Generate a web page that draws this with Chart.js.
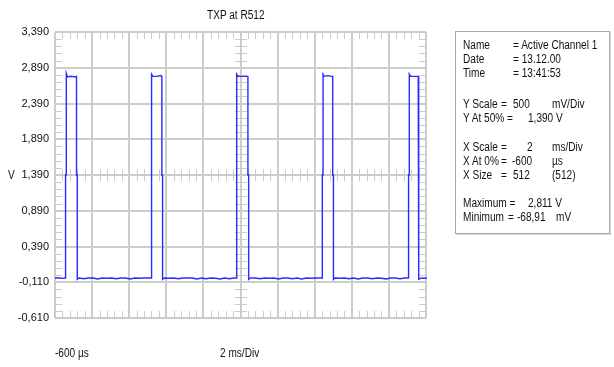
<!DOCTYPE html>
<html>
<head>
<meta charset="utf-8">
<script src="https://cdn.jsdelivr.net/npm/chart.js@4.4.0/dist/chart.umd.min.js"></script>
<style>
  body { margin: 0; background: #fff; }
  #wrap { position: relative; width: 614px; height: 367px; font-family: 'Liberation Sans', Arial, sans-serif; font-size: 12px; color: #111; }
  #wrap canvas { position: absolute; left: 0; top: 0; }
  .lbl { position: absolute; white-space: nowrap; line-height: 14px; transform: scaleX(0.84); transform-origin: 0 0; }
  #info { position: absolute; left: 455px; top: 31px; width: 155px; height: 203px; border: 1px solid #a8a8a8; box-shadow: 1px 1px 0 #d8d8d8; box-sizing: border-box; }
</style>
</head>
<body>
<div id="wrap">
  <canvas id="scope" width="614" height="367"></canvas>
  <div class="lbl" style="left:207px; top:8px;">TXP at R512</div>
  <div class="lbl" style="left:8px; top:168px;">V</div>
  <div class="lbl" style="left:55px; top:346px;">-600 µs</div>
  <div class="lbl" style="left:220px; top:346px;">2 ms/Div</div>
  <div id="info"></div>
</div>
<script>
// axis divisions (2 ms/Div, 500 mV/Div)
const xTicks = [-0.6, 1.4, 3.4, 5.4, 7.4, 9.4, 11.4, 13.4, 15.4, 17.4, 19.4];
const yTicks = [-0.61, -0.11, 0.39, 0.89, 1.39, 1.89, 2.39, 2.89, 3.39];
const xCenter = 9.4;
const yCenter = 1.39;

// captured trace: time in ms, level in V
const traceTime = [
  -0.60, -0.40, -0.20, -0.08,
  -0.03, -0.03, 0.01, 0.01, 0.07, 0.25, 0.50, 0.56, 0.56, 0.60, 0.60,
  0.70, 0.95, 1.20, 1.45, 1.70, 1.95, 2.20, 2.45, 2.70, 2.95, 3.20, 3.45, 3.70, 3.95, 4.20, 4.45,
  4.58, 4.58, 4.62, 4.62, 4.68, 4.90, 5.10, 5.16, 5.16, 5.20, 5.20,
  5.30, 5.55, 5.80, 6.05, 6.30, 6.55, 6.80, 7.05, 7.30, 7.55, 7.80, 8.05, 8.30, 8.55, 8.80, 9.05,
  9.17, 9.17, 9.21, 9.21, 9.27, 9.50, 9.74, 9.80, 9.80, 9.84, 9.84,
  9.95, 10.20, 10.45, 10.70, 10.95, 11.20, 11.45, 11.70, 11.95, 12.20, 12.45, 12.70, 12.95, 13.20, 13.45, 13.70,
  13.81, 13.81, 13.85, 13.85, 13.91, 14.10, 14.31, 14.37, 14.37, 14.41, 14.41,
  14.50, 14.75, 15.00, 15.25, 15.50, 15.75, 16.00, 16.25, 16.50, 16.75, 17.00, 17.25, 17.50, 17.75, 18.00, 18.25,
  18.46, 18.46, 18.50, 18.50, 18.56, 18.75, 18.92, 18.98, 18.98, 19.02, 19.02,
  19.15, 19.30, 19.45, 19.60, 19.70, 19.78
];
const traceVolt = [
  -0.05, -0.05, -0.055, -0.05,
  -0.05, 1.39, 1.39, 2.81, 2.76, 2.77, 2.76, 2.77, 1.39, 1.39, -0.07,
  -0.05, -0.06, -0.05, -0.05, -0.065, -0.05, -0.055, -0.05, -0.06, -0.05, -0.05, -0.065, -0.05, -0.055, -0.05, -0.05,
  -0.05, 1.39, 1.39, 2.80, 2.77, 2.77, 2.78, 2.77, 1.39, 1.39, -0.07,
  -0.05, -0.055, -0.05, -0.06, -0.05, -0.05, -0.05, -0.065, -0.05, -0.06, -0.05, -0.055, -0.065, -0.05, -0.06, -0.05,
  -0.05, 1.39, 1.39, 2.80, 2.77, 2.77, 2.77, 2.77, 1.39, 1.39, -0.07,
  -0.05, -0.05, -0.06, -0.05, -0.055, -0.05, -0.065, -0.05, -0.05, -0.06, -0.05, -0.065, -0.05, -0.055, -0.05, -0.05,
  -0.05, 1.39, 1.39, 2.80, 2.77, 2.78, 2.77, 2.77, 1.39, 1.39, -0.07,
  -0.05, -0.055, -0.05, -0.06, -0.05, -0.065, -0.05, -0.05, -0.06, -0.05, -0.055, -0.065, -0.05, -0.05, -0.06, -0.05,
  -0.05, 1.39, 1.39, 2.80, 2.77, 2.77, 2.77, 2.77, 1.39, 1.39, -0.07,
  -0.05, -0.055, -0.05, -0.06, -0.04, -0.05
];

// info panel rows: [top, [left, text]...]
const infoRows = [
  [38,  [8, "Name"], [58, "= Active Channel 1"]],
  [52,  [8, "Date"], [58, "= 13.12.00"]],
  [66,  [8, "Time"], [58, "= 13:41:53"]],
  [97,  [8, "Y Scale"], [46, "="], [58, "500"], [97, "mV/Div"]],
  [111, [8, "Y At 50% ="], [73, "1,390 V"]],
  [140, [8, "X Scale"], [46, "="], [72, "2"], [97, "ms/Div"]],
  [154, [8, "X At 0%"], [46, "="], [57, "-600"], [97, "µs"]],
  [168, [8, "X Size"], [46, "="], [58, "512"], [97, "(512)"]],
  [196, [8, "Maximum ="], [73, "2,811 V"]],
  [210, [8, "Minimum"], [53, "="], [62, "-68,91"], [101, "mV"]]
];

const gridColor = "#cccccc";
const traceColor = "#2b2bff";

const info = document.getElementById("info");
infoRows.forEach(row => {
  const top = row[0];
  row.slice(1).forEach(([left, text]) => {
    const s = document.createElement("span");
    s.className = "lbl";
    s.style.left = (left - 1) + "px";
    s.style.top = (top - 32) + "px";
    s.textContent = text;
    info.appendChild(s);
  });
});

// small division marks on the border and the centre cross
const minorTicks = {
  id: "minorTicks",
  beforeDatasetsDraw(chart){
    const { ctx, chartArea: a, scales: { x, y } } = chart;
    const xc = Math.round(x.getPixelForValue(xCenter));
    const yc = Math.round(y.getPixelForValue(yCenter));
    ctx.save();
    ctx.strokeStyle = gridColor;
    ctx.lineWidth = 1;
    ctx.beginPath();
    for (let i = 0; i < xTicks.length - 1; i++){
      for (let k = 1; k < 5; k++){
        const px = Math.round(x.getPixelForValue(xTicks[i] + (xTicks[i+1] - xTicks[i]) * k / 5)) + 0.5;
        ctx.moveTo(px, a.top); ctx.lineTo(px, a.top + 7);
        ctx.moveTo(px, a.bottom); ctx.lineTo(px, a.bottom - 7);
        ctx.moveTo(px, yc - 6); ctx.lineTo(px, yc + 6);
      }
    }
    for (let i = 0; i < yTicks.length - 1; i++){
      for (let k = 1; k < 5; k++){
        const py = Math.round(y.getPixelForValue(yTicks[i] + (yTicks[i+1] - yTicks[i]) * k / 5)) + 0.5;
        ctx.moveTo(a.left, py); ctx.lineTo(a.left + 7, py);
        ctx.moveTo(a.right, py); ctx.lineTo(a.right - 7, py);
        ctx.moveTo(xc - 6, py); ctx.lineTo(xc + 6, py);
      }
    }
    ctx.stroke();
    ctx.restore();
  }
};

new Chart(document.getElementById("scope"), {
  type: "line",
  data: {
    datasets: [{
      data: traceTime.map((t, i) => ({ x: t, y: traceVolt[i] })),
      borderColor: traceColor,
      borderWidth: 1.4,
      pointRadius: 0,
      tension: 0,
      clip: false
    }]
  },
  options: {
    responsive: false,
    animation: false,
    layout: { padding: { top: 32, right: 188, bottom: 49, left: 0 } },
    plugins: { legend: { display: false }, tooltip: { enabled: false } },
    scales: {
      x: {
        type: "linear",
        min: xTicks[0],
        max: xTicks[xTicks.length - 1],
        afterBuildTicks: s => { s.ticks = xTicks.map(v => ({ value: v })); },
        afterFit: s => { s.height = 0; },
        ticks: { display: false },
        border: { display: false },
        grid: { color: gridColor, lineWidth: 2, drawTicks: false }
      },
      y: {
        type: "linear",
        min: yTicks[0],
        max: yTicks[yTicks.length - 1],
        afterBuildTicks: s => { s.ticks = yTicks.map(v => ({ value: v })); },
        afterFit: s => { s.width = 55; },
        border: { display: false },
        grid: { color: gridColor, lineWidth: 2, drawTicks: false },
        ticks: {
          padding: 6,
          color: "#111",
          font: { family: "'Liberation Sans', Arial, sans-serif", size: 11 },
          callback: v => v.toFixed(3).replace(".", ",")
        }
      }
    }
  },
  plugins: [minorTicks]
});
</script>
</body>
</html>
